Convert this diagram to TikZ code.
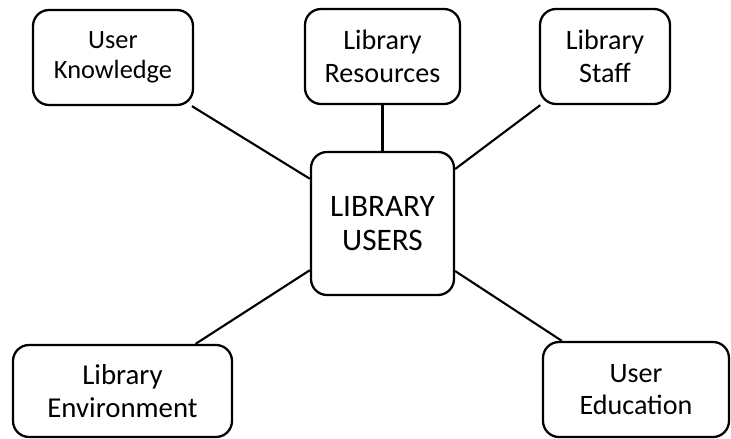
\documentclass[tikz,border=0pt]{standalone}
\usepackage{fontspec}
\setmainfont{Carlito}
\usepackage{tikz}
\usetikzlibrary{positioning}

\begin{document}
\begin{tikzpicture}[x=0.02cm, y=-0.02cm,
    topicbox/.style={draw, black, line width=1.3pt, rounded corners=0.32cm, align=center, inner sep=0pt},
    hubbox/.style={topicbox, minimum width=2.86cm, minimum height=2.86cm, font=\fontsize{17.8}{19.5}\selectfont},
    spoke/.style={black, line width=1.2pt}]

\useasboundingbox (0,0) rectangle (731,439);

% nodes
{
\node[topicbox, minimum width=3.2cm, minimum height=1.9cm, font=\fontsize{15}{17}\selectfont] (know) at (113,57.5) {User\\Knowledge};
\node[topicbox, minimum width=3.1cm, minimum height=1.9cm, font=\fontsize{16}{18.5}\selectfont] (res) at (382.5,56.5) {Library\\Resources};
\node[topicbox, minimum width=2.6cm, minimum height=1.9cm, font=\fontsize{16}{18.5}\selectfont] (staff) at (605,56.5) {Library\\Staff};

\node[hubbox] (users) at (382.5,223.5) {LIBRARY\\USERS};

\node[topicbox, minimum width=4.38cm, minimum height=1.84cm, font=\fontsize{16.4}{18.5}\selectfont] (env) at (122.5,391) {Library\\Environment};
\node[topicbox, minimum width=3.72cm, minimum height=1.9cm, font=\fontsize{16}{18.5}\selectfont] (edu) at (636,389.5) {User\\Education};
}

% spokes
{
\draw[spoke] (know) -- (users);
\draw[spoke] (res) -- (users);
\draw[spoke] (staff) -- (users);
\draw[spoke] (env) -- (users);
\draw[spoke] (edu) -- (users);
}

\end{tikzpicture}
\end{document}
